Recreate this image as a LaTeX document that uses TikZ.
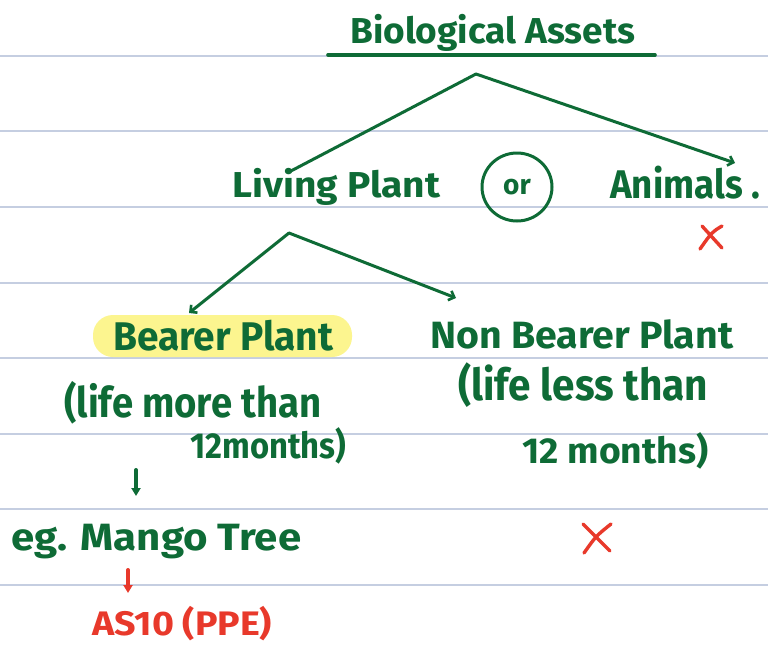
\documentclass[tikz,border=0pt]{standalone}
\usepackage{fontspec}
\setmainfont{Fira Sans}
\usetikzlibrary{arrows.meta}

\definecolor{ink}{HTML}{0E6B36}
\definecolor{redink}{HTML}{E8392B}
\definecolor{ruleline}{HTML}{C5CEE1}
\definecolor{hilite}{HTML}{FCF58F}

% handwritten-looking label: fixed width, natural height
\newcommand{\hw}[3]{\resizebox{#1pt}{\height}{\fontsize{#2pt}{#2pt}\selectfont\bfseries #3}}

\tikzset{
  hand/.style={text=ink, inner sep=0pt, anchor=base west},
  redhand/.style={text=redink, inner sep=0pt, anchor=base west},
  stroke/.style={draw=ink, line width=3pt, line cap=round, line join=round},
  redstroke/.style={draw=redink, line width=3.4pt, line cap=round, line join=round},
  barb/.style={-{Straight Barb[length=5pt,width=10pt,line width=2.6pt]}},
  ruling/.style={draw=ruleline, line width=1.5pt}
}

\begin{document}
\begin{tikzpicture}[x=1pt,y=-1pt]
  \useasboundingbox (0,0) rectangle (768,654);
  \fill[white] (0,0) rectangle (768,654);

  % notebook ruling
  \foreach \yy in {56,131,207,283,358,434,509,585}
    \draw[ruling] (0,\yy) -- (768,\yy);

  % title and underline
  \node[hand] (title) at (350,43) {\hw{285}{36}{Biological Assets}};
  \coordinate (ulA) at (328,55);
  \coordinate (ulB) at (655,55);
  \draw[stroke, line width=3.6pt] (ulA) -- (ulB);

  % first split
  \coordinate (top) at (476,74);
  \node[hand] (living) at (232,197) {\hw{208}{36}{Living Plant}};
  \node[hand] (animals) at (610,198) {\hw{150}{40}{Animals .}};
  \node[text=ink, inner sep=0pt] (or) at (517,187) {\fontsize{28pt}{28pt}\selectfont\bfseries or};
  \draw[stroke] (or) circle[x radius=35pt, y radius=34pt];
  \coordinate (livingTop) at (289,172);
  \coordinate (animalsTop) at (735,163);
  \draw[stroke] (top) -- (livingTop);
  \draw[stroke, barb] (top) -- (animalsTop);

  % cross under Animals
  \coordinate (xa1) at (702,226); \coordinate (xa2) at (722,248);
  \coordinate (xa3) at (722,226); \coordinate (xa4) at (700,249);
  \draw[redstroke] (xa1) -- (xa2) (xa3) .. controls (712,232) .. (xa4);

  % second split
  \coordinate (mid) at (289,233);
  \coordinate (bearerTop) at (189,313);
  \coordinate (nonTop) at (456,298);
  \draw[stroke, barb] (mid) -- (bearerTop);
  \draw[stroke, barb] (mid) -- (nonTop);

  % bearer plant, highlighted
  \fill[hilite, rounded corners=20pt] (93,315) rectangle (352,357);
  \node[hand] (bearer) at (113,350) {\hw{220}{40}{Bearer Plant}};
  \node[hand] (nonbearer) at (430,348) {\hw{303}{38}{Non Bearer Plant}};

  % life spans
  \node[hand] (lifeMore) at (64,417) {\hw{257}{42}{(life more than}};
  \node[hand] (moreMonths) at (190,458) {\hw{156}{36}{12months)}};
  \node[hand] (lifeLess) at (458,400) {\hw{250}{44}{(life less than}};
  \node[hand] (lessMonths) at (522,463) {\hw{186}{36}{12 months)}};

  % example
  \coordinate (egA) at (136,470);
  \coordinate (egB) at (136,496);
  \draw[stroke, line width=4pt, -{Triangle[length=8pt,width=9pt]}] (egA) -- (egB);
  \node[hand] (mango) at (11,550) {\hw{290}{38}{eg. Mango Tree}};

  % cross under non-bearer
  \coordinate (xb1) at (583,524); \coordinate (xb2) at (610,551);
  \coordinate (xb3) at (611,524); \coordinate (xb4) at (584,553);
  \draw[redstroke] (xb1) -- (xb2) (xb3) .. controls (596,536) .. (xb4);

  % standard reference
  \coordinate (asA) at (128,570);
  \coordinate (asB) at (128,593);
  \draw[redstroke, line width=4pt, -{Triangle[length=8pt,width=9pt]}] (asA) -- (asB);
  \node[redhand] (as10) at (92,635) {\hw{180}{34}{AS10 (PPE)}};
\end{tikzpicture}
\end{document}
